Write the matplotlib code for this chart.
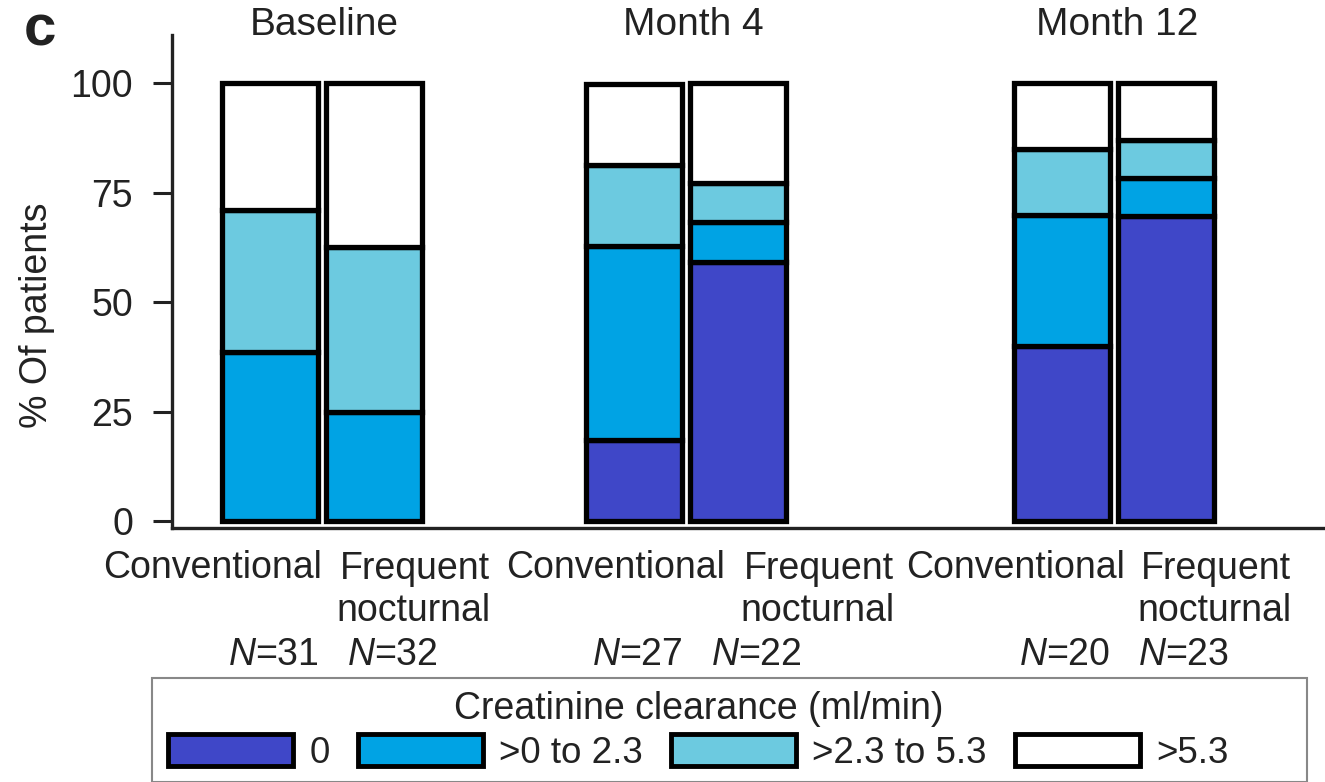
import matplotlib
matplotlib.use("Agg")
import matplotlib.pyplot as plt
from matplotlib.patches import Patch, Rectangle

plt.rcParams['font.family'] = ['Liberation Sans', 'DejaVu Sans']
plt.rcParams['mathtext.fontset'] = 'custom'
plt.rcParams['mathtext.rm'] = 'Liberation Sans'
plt.rcParams['mathtext.it'] = 'Liberation Sans:italic'

# datos: % de pacientes por categoría de aclaramiento de creatinina
visitas = ["Baseline", "Month 4", "Month 12"]
grupos = ["Conventional", "Frequent\nnocturnal"]
n_pacientes = [[31, 32], [27, 22], [20, 23]]
categorias = ["0", ">0 to 2.3", ">2.3 to 5.3", ">5.3"]
colores = ["#3f47c8", "#00a3e4", "#6ccae0", "#ffffff"]

# un valor por barra: [conv baseline, noct baseline, conv m4, noct m4, conv m12, noct m12]
cat_0 = [0.0, 0.0, 18.5, 59.1, 40.0, 69.6]
cat_0_23 = [38.7, 25.0, 44.4, 9.1, 30.0, 8.7]
cat_23_53 = [32.3, 37.5, 18.5, 9.1, 15.0, 8.7]
cat_53 = [29.0, 37.5, 18.5, 22.7, 15.0, 13.0]
series = [cat_0, cat_0_23, cat_23_53, cat_53]

# posiciones en pixeles de la figura
centros = [322, 686, 1114]
ancho = 96
sep = 52

fig = plt.figure(figsize=(13.25, 7.82), dpi=100)
W, H = 1325, 782
ax = fig.add_axes([172 / W, 1 - 528 / H, 1 - 172 / W, (528 - 35) / H])

xs = []
for c in centros:
    xs += [c - sep, c + sep]

base = [0.0] * len(xs)
for vals, col in zip(series, colores):
    for i, (x, v) in enumerate(zip(xs, vals)):
        if v > 0:
            ax.bar(x, v, width=ancho, bottom=base[i], color=col,
                   edgecolor="black", linewidth=3.8, zorder=3)
        base[i] += v

ax.set_xlim(172, 1325)
ax.set_ylim(-1.6, 111)
ax.set_yticks([0, 25, 50, 75, 100])
ax.set_xticks([])
ax.tick_params(axis="y", length=14, width=2.2, pad=14, labelsize=27,
               color="#222222", labelcolor="#222222")
for s in ["top", "right"]:
    ax.spines[s].set_visible(False)
for s in ["left", "bottom"]:
    ax.spines[s].set_linewidth(2.4)
    ax.spines[s].set_color("#222222")

fig.text(37 / W, 1 - 315 / H, "% Of patients", rotation=90, fontsize=27,
         ha="center", va="center", color="#222222")
fig.text(24 / W, 1 - 30 / H, "c", fontsize=42, fontweight="bold",
         ha="left", va="center", color="#222222")

# titulos de cada visita
titulo_x = [324, 693, 1117]
for t, x in zip(visitas, titulo_x):
    fig.text(x / W, 1 - 25 / H, t, fontsize=28, ha="center", va="center",
             color="#222222")

# etiquetas de los grupos debajo del eje
conv_der = [322, 725, 1125]
noct_izq = [336, 740, 1137]
for k in range(3):
    fig.text(conv_der[k] / W, 1 - 568 / H, grupos[0], fontsize=27,
             ha="right", va="center", color="#222222")
    fig.text(noct_izq[k] / W, 1 - 590 / H, grupos[1], fontsize=27,
             ha="left", va="center", multialignment="right",
             linespacing=1.2, color="#222222")
    n1, n2 = n_pacientes[k]
    fig.text((centros[k] - sep + 3) / W, 1 - 655 / H, f"$N$={n1}",
             fontsize=27, ha="center", va="center", color="#222222")
    fig.text((centros[k] + sep + 18) / W, 1 - 655 / H, f"$N$={n2}",
             fontsize=27, ha="center", va="center", color="#222222")

# leyenda
fig.patches.append(Rectangle((152 / W, 0), (1307 - 152) / W, 1 - 678 / H,
                             transform=fig.transFigure, facecolor="white",
                             edgecolor="#888888", linewidth=1.5, zorder=0))
handles = [Patch(facecolor=c, edgecolor="black", linewidth=3.5) for c in colores]
leg = fig.legend(handles, categorias, loc="upper left",
                 bbox_to_anchor=(146 / W, 1 - 669 / H), ncol=4, frameon=False,
                 fontsize=26.5, title="Creatinine clearance (ml/min)",
                 title_fontsize=27, handlelength=3.4, handleheight=0.95,
                 handletextpad=0.45, columnspacing=0.75, borderpad=0.1,
                 labelspacing=0.2)
for t in leg.get_texts():
    t.set_color("#222222")
leg.get_title().set_color("#222222")

fig.savefig("out.png", dpi=100)
